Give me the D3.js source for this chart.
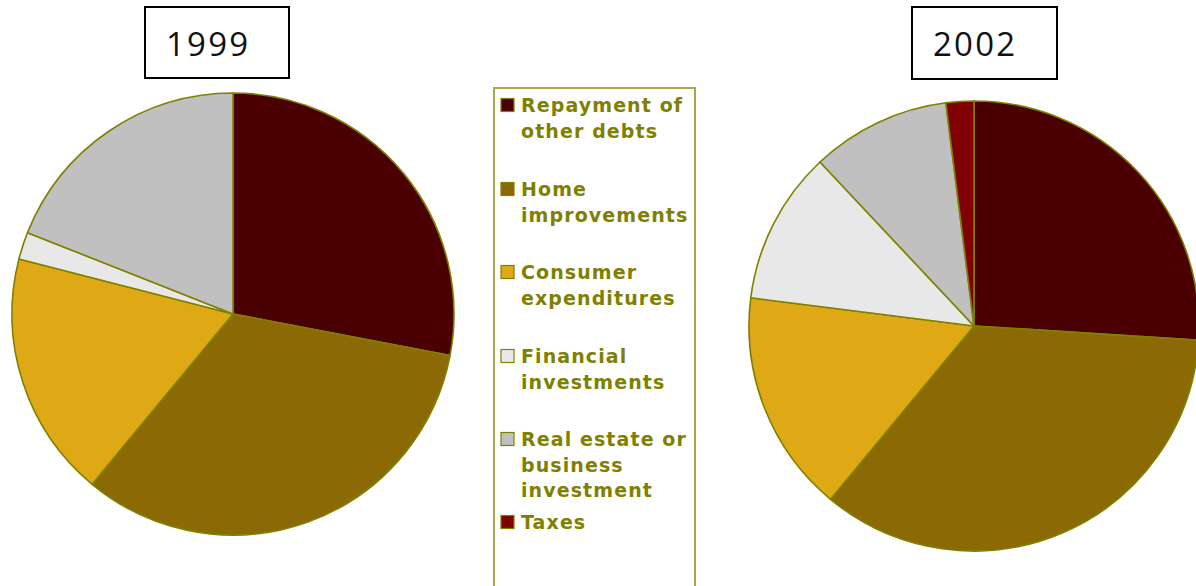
<!DOCTYPE html>
<html>
<head>
<meta charset="utf-8">
<script src="https://cdn.jsdelivr.net/npm/d3@7"></script>
<style>
body { margin: 0; background: #fff; }
svg { display: block; }
</style>
</head>
<body>
<svg id="chart" width="1196" height="586"></svg>
<script>
// uses of cash-out refinance proceeds (%)
var categories = ["Repayment of other debts", "Home improvements", "Consumer expenditures",
	"Financial investments", "Real estate or business investment", "Taxes"];
var legend_lines = [["Repayment of", "other debts"], ["Home", "improvements"], ["Consumer", "expenditures"],
	["Financial", "investments"], ["Real estate or", "business", "investment"], ["Taxes"]];
var values_1999 = [28, 33, 18, 2, 19, 0];
var values_2002 = [26, 35, 16, 11, 10, 2];
var years = ["1999", "2002"];
var colors = ["#4a0000", "#8b6a05", "#dfa916", "#e8e8e8", "#c0c0c0", "#800000"];

var svg = d3.select("#chart");

var color = d3.scaleOrdinal().domain(categories).range(colors);

var pie = d3.pie().sort(null).value(d=>d.value);

var pies = [
	{year: years[0], values: values_1999, cx: 233, cy: 314, r: 221, box: [145, 7, 144, 71]},
	{year: years[1], values: values_2002, cx: 974, cy: 326, r: 225, box: [912, 7, 145, 72]}
];

pies.forEach(function(p) {
	var arc = d3.arc().innerRadius(0).outerRadius(p.r);
	var data = categories.map((c, i)=>({name: c, value: p.values[i]}));

	var g = svg.append("g")
	  .attr("transform", "translate(" + p.cx + "," + p.cy + ")");
	g.selectAll("path")
	  .data(pie(data).filter(d=>d.value > 0))
	  .enter().append("path")
	  .attr("d", arc)
	  .style("fill", d=>color(d.data.name))
	  .style("stroke", "#808000")
	  .style("stroke-width", 1.6)
	  .style("stroke-linejoin", "round");

	// year box
	svg.append("rect")
	  .attr("x", p.box[0]).attr("y", p.box[1])
	  .attr("width", p.box[2]).attr("height", p.box[3])
	  .style("fill", "#fff")
	  .style("stroke", "#000")
	  .style("stroke-width", 2);
	svg.append("text")
	  .attr("x", p.box[0] + 21)
	  .attr("y", 56)
	  .style("font-family", "'Open Sans', sans-serif")
	  .style("font-size", "33px")
	  .style("letter-spacing", "2.2px")
	  .style("fill", "#111")
	  .text(p.year);
});

// legend
var legend = svg.append("g").attr("class", "legend");
legend.append("rect")
  .attr("x", 494).attr("y", 88)
  .attr("width", 201).attr("height", 520)
  .style("fill", "#fff")
  .style("stroke", "#a8a848")
  .style("stroke-width", 2);

var legend_y = d3.scaleOrdinal().domain(categories).range([105, 189, 272, 356, 439, 522]);

var items = legend.selectAll(".item")
  .data(categories)
  .enter().append("g")
  .attr("class", "item")
  .attr("transform", d=>"translate(0," + legend_y(d) + ")");

items.append("rect")
  .attr("x", 501).attr("y", -6.5)
  .attr("width", 13).attr("height", 13)
  .style("fill", d=>color(d))
  .style("stroke", "#808000")
  .style("stroke-width", 1.2);

items.append("text")
  .attr("x", 521)
  .attr("y", 7)
  .style("font-family", "'DejaVu Sans', Verdana, sans-serif")
  .style("font-weight", "bold")
  .style("font-size", "19px")
  .style("letter-spacing", "1.1px")
  .style("fill", "#808000")
  .selectAll("tspan")
  .data((d, i)=>legend_lines[i])
  .enter().append("tspan")
  .attr("x", 521)
  .attr("dy", (d, i)=>i == 0 ? 0 : 25.5)
  .text(d=>d);
</script>
</body>
</html>
